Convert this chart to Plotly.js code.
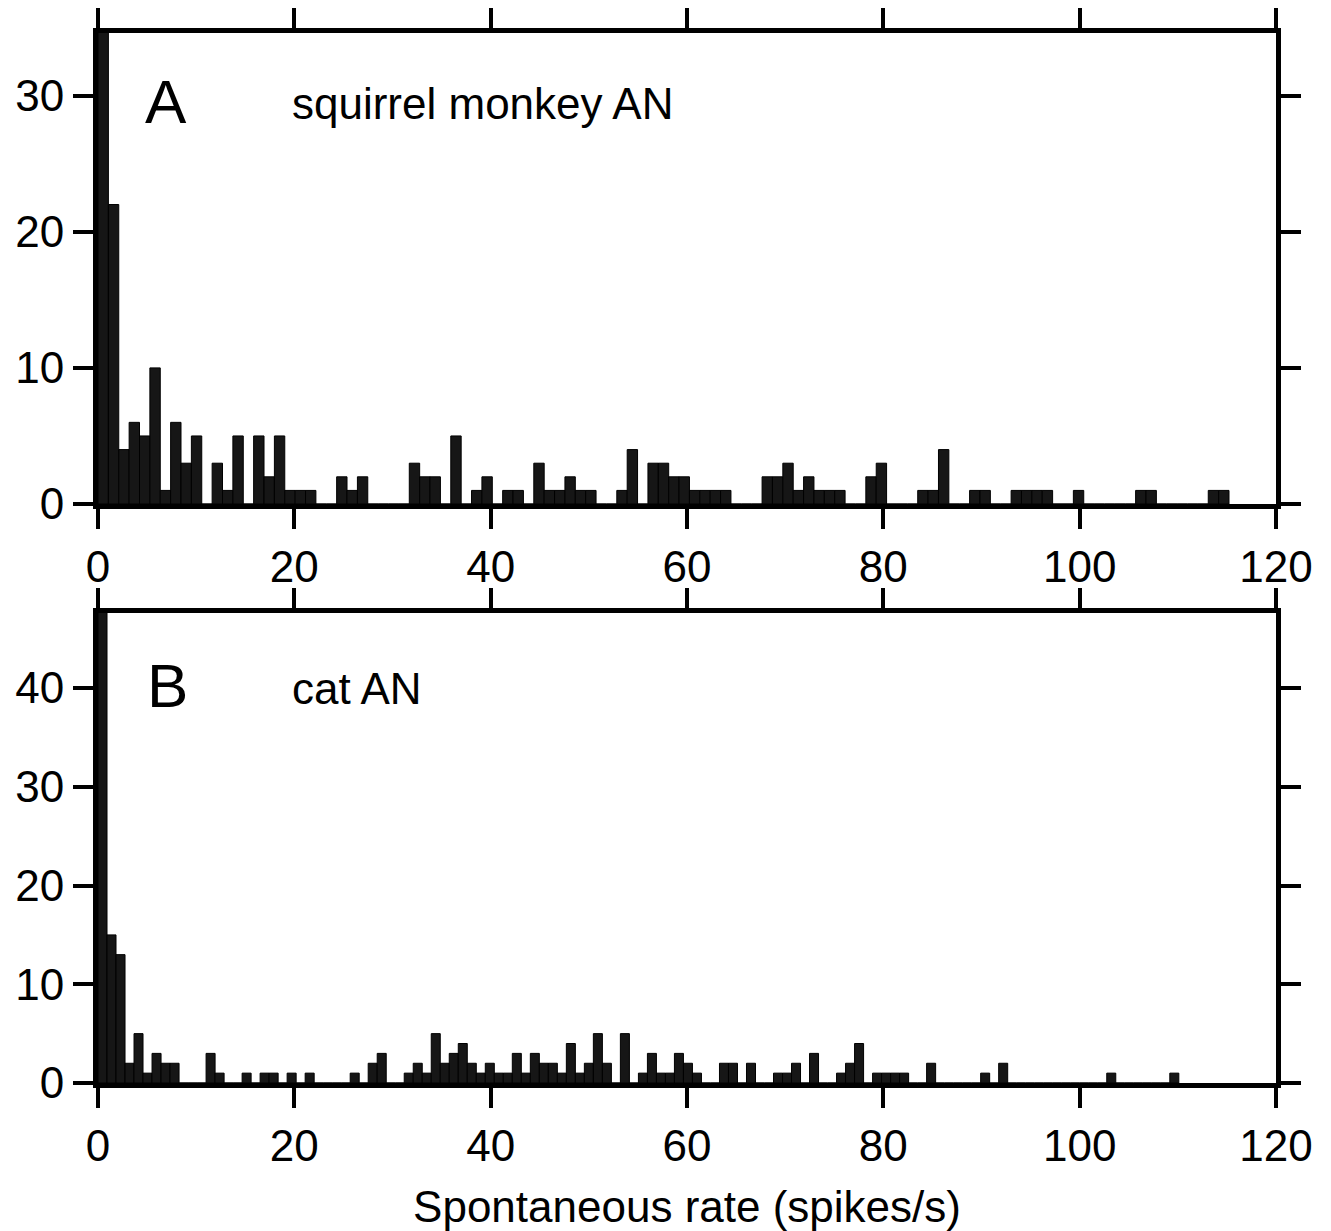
<!DOCTYPE html>
<html>
<head>
<meta charset="utf-8">
<script src="https://cdn.plot.ly/plotly-3.0.1.min.js"></script>
<style>html,body{margin:0;padding:0;background:#fff;}#chart{width:1331px;height:1231px;}</style>
</head>
<body>
<div id="chart"></div>
<script>
// Histogram bin widths (spikes/s)
const binWidthA = 1.057;
const binWidthB = 0.9175;

// Panel A: squirrel monkey AN, counts per bin starting at 0
const countsA = [35,22,4,6,5,10,1,6,3,5,0,3,1,5,0,5,2,5,1,1,
                 1,0,0,2,1,2,0,0,0,0,3,2,2,0,5,0,1,2,0,1,
                 1,0,3,1,1,2,1,1,0,0,1,4,0,3,3,2,2,1,1,1,
                 1,0,0,0,2,2,3,1,2,1,1,1,0,0,2,3,0,0,0,1,
                 1,4,0,0,1,1,0,0,1,1,1,1,0,0,1,0,0,0,0,0,
                 1,1,0,0,0,0,0,1,1];

// Panel B: cat AN, counts per bin starting at 0
const countsB = [48,15,13,2,5,1,3,2,2,0,0,0,3,1,0,0,1,0,1,1,
                 0,1,0,1,0,0,0,0,1,0,2,3,0,0,1,2,1,5,2,3,
                 4,2,1,2,1,1,3,1,3,2,2,1,4,1,2,5,2,0,5,0,
                 1,3,1,1,3,2,1,0,0,2,2,0,2,0,0,1,1,2,0,3,
                 0,0,1,2,4,0,1,1,1,1,0,0,2,0,0,0,0,0,1,0,
                 2,0,0,0,0,0,0,0,0,0,0,0,1,0,0,0,0,0,0,1];

const xTicks = [0,20,40,60,80,100,120];
const panelLabels = ["A","B"];
const panelTitles = ["squirrel monkey AN","cat AN"];
const xTitle = "Spontaneous rate (spikes/s)";

const centersA = countsA.map((_, i) => (i + 0.5) * binWidthA);
const centersB = countsB.map((_, i) => (i + 0.5) * binWidthB);

const barStyle = {color: '#161616', line: {color: '#000', width: 1}};

const traces = [
  {type: 'bar', x: centersA, y: countsA, width: binWidthA, marker: barStyle, xaxis: 'x', yaxis: 'y', hoverinfo: 'skip'},
  {type: 'bar', x: centersB, y: countsB, width: binWidthB, marker: barStyle, xaxis: 'x2', yaxis: 'y2', hoverinfo: 'skip'}
];

const fontFam = 'Liberation Sans, Arial, Helvetica, sans-serif';
const axBase = {
  showline: true, linecolor: '#000', linewidth: 5, mirror: 'ticks',
  ticks: 'outside', ticklen: 20, tickwidth: 4, tickcolor: '#000',
  showgrid: false, zeroline: false,
  tickfont: {family: fontFam, size: 44, color: '#000'}
};

const layout = {
  width: 1331, height: 1231,
  margin: {l: 98, r: 55, t: 33, b: 148},
  paper_bgcolor: '#fff', plot_bgcolor: '#fff',
  showlegend: false, bargap: 0,
  font: {family: fontFam, color: '#000'},
  xaxis: Object.assign({}, axBase, {range: [0, 120], tickvals: xTicks, anchor: 'y', domain: [0, 1]}),
  yaxis: Object.assign({}, axBase, {range: [0, 34.6], dtick: 10, anchor: 'x', domain: [0.5514, 1]}),
  xaxis2: Object.assign({}, axBase, {range: [0, 120], tickvals: xTicks, anchor: 'y2', domain: [0, 1],
    title: {text: xTitle, font: {family: fontFam, size: 44, color: '#000'}, standoff: 24}}),
  yaxis2: Object.assign({}, axBase, {range: [0, 47.6], dtick: 10, anchor: 'x2', domain: [0, 0.4476]}),
  annotations: [
    {text: panelLabels[0], xref: 'paper', yref: 'paper', x: 0.0385, y: 0.9352, xanchor: 'left', yanchor: 'middle', showarrow: false, font: {family: fontFam, size: 62, color: '#000'}},
    {text: panelTitles[0], xref: 'paper', yref: 'paper', x: 0.163, y: 0.9333, xanchor: 'left', yanchor: 'middle', showarrow: false, font: {family: fontFam, size: 44, color: '#000'}},
    {text: panelLabels[1], xref: 'paper', yref: 'paper', x: 0.04, y: 0.3781, xanchor: 'left', yanchor: 'middle', showarrow: false, font: {family: fontFam, size: 62, color: '#000'}},
    {text: panelTitles[1], xref: 'paper', yref: 'paper', x: 0.163, y: 0.376, xanchor: 'left', yanchor: 'middle', showarrow: false, font: {family: fontFam, size: 44, color: '#000'}}
  ]
};

Plotly.newPlot('chart', traces, layout, {staticPlot: true, displayModeBar: false});
</script>
</body>
</html>
